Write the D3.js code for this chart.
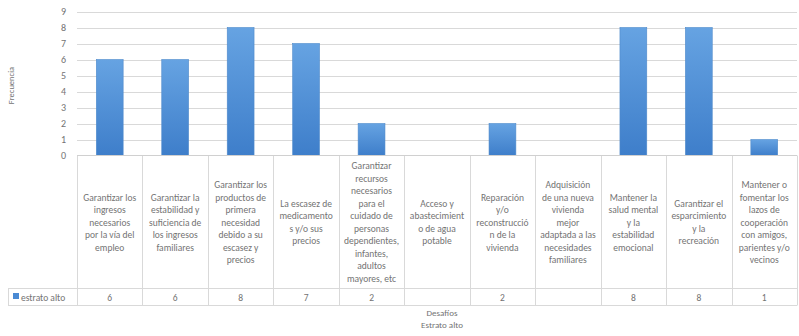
<!DOCTYPE html>
<html>
<head>
<meta charset="utf-8">
<script src="https://cdn.jsdelivr.net/npm/d3@7/dist/d3.min.js"></script>
<style>
  html, body { margin: 0; padding: 0; background: #fff; }
  svg { display: block; }
  text { font-family: Carlito, Lato, "Liberation Sans", sans-serif; fill: #737373; }
</style>
</head>
<body>
<script>
// Challenges reported by the "estrato alto" group
const categories = [
  ["Garantizar los", "ingresos", "necesarios", "por la vía del", "empleo"],
  ["Garantizar la", "estabilidad y", "suficiencia de", "los ingresos", "familiares"],
  ["Garantizar los", "productos de", "primera", "necesidad", "debido a su", "escasez y", "precios"],
  ["La escasez de", "medicamento", "s y/o sus", "precios"],
  ["Garantizar", "recursos", "necesarios", "para el", "cuidado de", "personas", "dependientes,", "infantes,", "adultos", "mayores, etc"],
  ["Acceso y", "abastecimient", "o de agua", "potable"],
  ["Reparación", "y/o", "reconstrucció", "n de la", "vivienda"],
  ["Adquisición", "de una nueva", "vivienda", "mejor", "adaptada a las", "necesidades", "familiares"],
  ["Mantener la", "salud mental", "y la", "estabilidad", "emocional"],
  ["Garantizar el", "esparcimiento", "y la", "recreación"],
  ["Mantener o", "fomentar los", "lazos de", "cooperación", "con amigos,", "parientes y/o", "vecinos"]
];
const seriesName = "estrato alto";
const values = [6, 6, 8, 7, 2, null, 2, null, 8, 8, 1];
const yTicks = [0, 1, 2, 3, 4, 5, 6, 7, 8, 9];
const yTitle = "Frecuencia";
const xTitle = ["Desafíos", "Estrato alto"];

const W = 799, H = 336;
const plot = { left: 77, right: 797, top: 11.5, bottom: 155.5 };
const tableTextBottom = 288.5, tableBottom = 305.5, legendLeft = 8;
const gridColor = "#d9d9d9";

const svg = d3.select("body").append("svg").attr("width", W).attr("height", H);

const x = d3.scaleBand()
  .domain(d3.range(categories.length))
  .range([plot.left, plot.right])
  .paddingInner(0).paddingOuter(0);

const y = d3.scaleLinear().domain([0, 9]).range([plot.bottom, plot.top]);

// bar fill gradient
const defs = svg.append("defs");
const grad = defs.append("linearGradient").attr("id", "barGrad")
  .attr("x1", 0).attr("y1", 0).attr("x2", 0).attr("y2", 1);
grad.append("stop").attr("offset", "0%").attr("stop-color", "#66a3e2");
grad.append("stop").attr("offset", "100%").attr("stop-color", "#3e7eca");

// horizontal gridlines
svg.append("g").selectAll("line").data(yTicks.filter(d => d > 0)).join("line")
  .attr("x1", plot.left).attr("x2", plot.right)
  .attr("y1", d => Math.round(y(d)) + 0.5).attr("y2", d => Math.round(y(d)) + 0.5)
  .attr("stroke", gridColor).attr("stroke-width", 1);

// y axis tick labels
const yAxis = d3.axisLeft(y).tickValues(yTicks).tickSize(0).tickPadding(11);
const gy = svg.append("g").attr("transform", `translate(${plot.left},0)`).call(yAxis);
gy.select(".domain").remove();
gy.selectAll("text").attr("font-size", 10).style("font-family", "Carlito, Lato, 'Liberation Sans', sans-serif").attr("fill", "#737373");

// y title
svg.append("text")
  .attr("transform", `translate(14,${(plot.top + plot.bottom) / 2 + 2}) rotate(-90)`)
  .attr("text-anchor", "middle").attr("font-size", 8.5)
  .text(yTitle);

// bars
const barW = x.bandwidth() * 0.41;
svg.append("g").selectAll("rect").data(values.map((v, i) => ({ v, i })).filter(d => d.v != null)).join("rect")
  .attr("x", d => x(d.i) + (x.bandwidth() - barW) / 2)
  .attr("width", barW)
  .attr("y", d => y(d.v))
  .attr("height", d => y(0) - y(d.v))
  .attr("fill", "url(#barGrad)")
  .attr("stroke", "#4f8acb").attr("stroke-width", 0.6);

// data table grid
const tg = svg.append("g").attr("stroke", gridColor).attr("stroke-width", 1);
[plot.bottom, tableTextBottom, tableBottom].forEach(yy => {
  tg.append("line").attr("x1", yy === plot.bottom ? plot.left : legendLeft).attr("x2", plot.right)
    .attr("y1", yy).attr("y2", yy);
});
const bounds = d3.range(categories.length + 1).map(i => i < categories.length ? x(i) : plot.right);
tg.selectAll("line.v").data(bounds).join("line").attr("class", "v")
  .attr("x1", d => Math.round(d) + 0.5).attr("x2", d => Math.round(d) + 0.5)
  .attr("y1", plot.bottom).attr("y2", tableBottom);
tg.append("line").attr("x1", legendLeft + 0.5).attr("x2", legendLeft + 0.5)
  .attr("y1", tableTextBottom).attr("y2", tableBottom);
// axis line at zero
svg.append("line").attr("x1", plot.left).attr("x2", plot.right)
  .attr("y1", plot.bottom).attr("y2", plot.bottom).attr("stroke", "#d0d0d0");

// category labels, centred in their table cells
const lineH = 12.5;
const cellMid = (plot.bottom + tableTextBottom) / 2;
const cat = svg.append("g").selectAll("text").data(categories).join("text")
  .attr("text-anchor", "middle").attr("font-size", 9.5)
  .attr("x", (d, i) => x(i) + x.bandwidth() / 2)
  .attr("y", d => cellMid - (d.length - 1) * lineH / 2 + 3.5);
cat.selectAll("tspan").data(d => d).join("tspan")
  .attr("x", function () { return d3.select(this.parentNode).attr("x"); })
  .attr("dy", (d, i) => i === 0 ? 0 : lineH)
  .text(d => d);

// value row
const rowMid = (tableTextBottom + tableBottom) / 2 + 3.5;
svg.append("g").selectAll("text").data(values).join("text")
  .attr("text-anchor", "middle").attr("font-size", 9.5)
  .attr("x", (d, i) => x(i) + x.bandwidth() / 2)
  .attr("y", rowMid)
  .text(d => d == null ? "" : d);

// legend key in the table
svg.append("rect").attr("x", 13).attr("y", rowMid - 7.5).attr("width", 6).attr("height", 6)
  .attr("fill", "#4a8ad4");
svg.append("text").attr("x", 21).attr("y", rowMid).attr("font-size", 9.5).text(seriesName);

// x title
svg.append("g").selectAll("text").data(xTitle).join("text")
  .attr("text-anchor", "middle").attr("font-size", 9)
  .attr("x", (plot.left + plot.right) / 2 + 5)
  .attr("y", (d, i) => 316 + i * 12)
  .text(d => d);
</script>
</body>
</html>
